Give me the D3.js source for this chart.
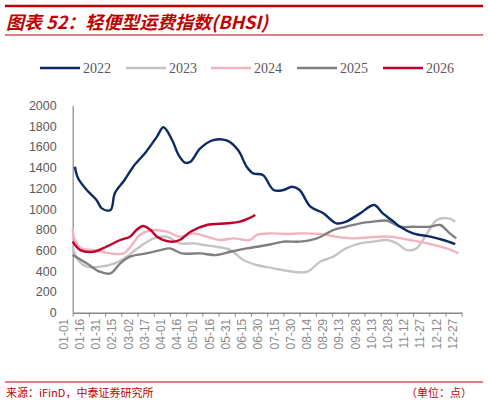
<!DOCTYPE html>
<html lang="en">
<head>
  <meta charset="UTF-8" />
  <title>BHSI</title>
  <script src="https://cdn.jsdelivr.net/npm/d3@7"></script>
  <style>
    body { margin: 0; background: #fff; }
  </style>
</head>
<body>
  <svg id="svg"></svg>
</body>
<script>
  // day of year (0 = 01-01) and index value
  const days2022 = [2, 5, 13, 22, 27, 35, 39, 48, 56, 68, 78, 84, 92, 98, 104, 109, 118, 130, 143, 153, 161, 167, 176, 186, 195, 203, 210, 220, 232, 244, 253, 266, 279, 287, 297, 303, 315, 331, 343, 354];
  const vals2022 = [1408, 1296, 1183, 1087, 1006, 990, 1151, 1280, 1408, 1553, 1698, 1788, 1665, 1521, 1447, 1456, 1585, 1665, 1659, 1569, 1408, 1344, 1328, 1183, 1183, 1215, 1183, 1022, 958, 862, 878, 958, 1038, 958, 878, 829, 765, 733, 701, 662];
  const days2023 = [0, 5, 13, 25, 39, 50, 62, 75, 87, 99, 112, 121, 133, 146, 158, 170, 186, 201, 217, 229, 241, 253, 266, 278, 291, 300, 309, 318, 328, 337, 348, 354];
  const vals2023 = [636, 508, 444, 444, 476, 540, 636, 717, 733, 669, 669, 653, 636, 604, 508, 460, 428, 400, 395, 492, 540, 620, 669, 685, 701, 669, 604, 620, 765, 894, 910, 878];
  const days2024 = [0, 2, 8, 19, 35, 47, 56, 62, 75, 87, 99, 112, 124, 136, 149, 164, 170, 183, 198, 210, 229, 244, 260, 275, 294, 312, 328, 346, 357];
  const vals2024 = [813, 701, 620, 604, 572, 572, 669, 749, 797, 781, 733, 765, 733, 701, 717, 701, 749, 765, 759, 765, 759, 733, 717, 727, 733, 701, 669, 620, 572];
  const days2025 = [0, 13, 25, 35, 44, 53, 68, 81, 90, 101, 118, 133, 146, 161, 180, 195, 210, 226, 241, 253, 266, 278, 291, 303, 315, 331, 340, 349, 355];
  const vals2025 = [556, 476, 395, 379, 476, 540, 572, 604, 620, 572, 572, 556, 588, 620, 653, 685, 685, 717, 797, 829, 862, 878, 887, 829, 829, 829, 846, 765, 717];
  const days2026 = [0, 7, 19, 31, 44, 53, 59, 65, 72, 78, 90, 99, 109, 124, 143, 155, 163, 169];
  const vals2026 = [685, 604, 588, 636, 701, 733, 797, 836, 797, 733, 685, 701, 781, 846, 862, 878, 910, 942];

  const seriesNames = ["2022", "2023", "2024", "2025", "2026"];
  const seriesColors = ["#0c2a64", "#c4c4c4", "#f2b3c0", "#7f7f7f", "#c0002a"];
  const tickDays = d3.range(0, 361, 15);
  const tickLabels = ["01-01", "01-16", "01-31", "02-15", "03-02", "03-17", "04-01", "04-16", "05-01", "05-16", "05-31", "06-15", "06-30", "07-15", "07-30", "08-14", "08-29", "09-13", "09-28", "10-13", "10-28", "11-12", "11-27", "12-12", "12-27"];
  const yTicks = [0, 200, 400, 600, 800, 1000, 1200, 1400, 1600, 1800, 2000];

  const allDays = [days2022, days2023, days2024, days2025, days2026];
  const allVals = [vals2022, vals2023, vals2024, vals2025, vals2026];

  const width = 488, height = 405;
  const svg = d3.select("#svg").attr("width", width).attr("height", height);
  const red = "#c00000";

  // header
  svg.append("line").attr("x1", 5).attr("x2", 483).attr("y1", 6).attr("y2", 6)
    .attr("stroke", red).attr("stroke-width", 2.5);
  svg.append("text").text("图表 52：轻便型运费指数(BHSI)")
    .attr("x", 6).attr("y", 29).attr("fill", red)
    .attr("font-family", "'Noto Sans CJK SC', sans-serif")
    .attr("font-size", 18).attr("font-weight", "bold").attr("font-style", "italic");
  svg.append("line").attr("x1", 5).attr("x2", 483).attr("y1", 35).attr("y2", 35)
    .attr("stroke", red).attr("stroke-width", 1);

  // footer
  svg.append("line").attr("x1", 5).attr("x2", 483).attr("y1", 382).attr("y2", 382)
    .attr("stroke", red).attr("stroke-width", 1);
  const foot = svg.append("g").attr("font-family", "'Noto Sans CJK SC', sans-serif")
    .attr("font-size", 11).attr("fill", red);
  foot.append("text").text("来源：iFinD，中泰证券研究所").attr("x", 6).attr("y", 397);
  foot.append("text").text("（单位：点）").attr("x", 472).attr("y", 397).attr("text-anchor", "end");

  // scales
  const x = d3.scaleLinear().domain([0, 360]).range([72.7, 461.7]);
  const y = d3.scaleLinear().domain([0, 2000]).range([312.7, 105.3]);

  const yAxis = d3.axisLeft(y).tickValues(yTicks).tickFormat(d3.format("d")).tickSize(0).tickPadding(16);
  const gy = svg.append("g").attr("transform", "translate(72.7,0)").call(yAxis);
  gy.select(".domain").attr("stroke", "#888").attr("stroke-width", 1.2);
  gy.selectAll("text").attr("font-family", "'Liberation Sans', Arial").attr("font-size", 12.5).attr("fill", "#595959");

  const xAxis = d3.axisBottom(x).tickValues(tickDays).tickFormat((d, i) => tickLabels[i]).tickSize(4).tickSizeOuter(0);
  const gx = svg.append("g").attr("transform", "translate(0,312.7)").call(xAxis);
  gx.select(".domain").attr("stroke", "#888").attr("stroke-width", 1.5);
  gx.selectAll(".tick line").attr("stroke", "#888");
  gx.selectAll("text").attr("font-family", "'Liberation Sans', Arial").attr("font-size", 12).attr("fill", "#8a8a8a")
    .attr("transform", "rotate(-90)").attr("text-anchor", "end").attr("dx", "-6").attr("dy", "-0.45em").attr("y", 0).attr("x", 0);

  // lines
  const line = d3.line().x(d => x(d[0])).y(d => y(d[1])).curve(d3.curveCatmullRom.alpha(0.5));
  const order = [1, 2, 3, 4, 0];
  order.forEach(i => {
    const pts = allDays[i].map((d, j) => [d, allVals[i][j]]);
    svg.append("path").datum(pts).attr("d", line).attr("fill", "none")
      .attr("stroke", seriesColors[i]).attr("stroke-width", 2.4).attr("stroke-linejoin", "round");
  });

  // legend
  const legendX = [40, 126, 211, 297, 383];
  seriesNames.forEach((name, i) => {
    svg.append("line").attr("x1", legendX[i]).attr("x2", legendX[i] + 40).attr("y1", 68).attr("y2", 68)
      .attr("stroke", seriesColors[i]).attr("stroke-width", 2.5);
    svg.append("text").text(name).attr("x", legendX[i] + 43).attr("y", 73)
      .attr("font-family", "'Liberation Serif', serif").attr("font-size", 14).attr("fill", "#595959");
  });
</script>
</html>
